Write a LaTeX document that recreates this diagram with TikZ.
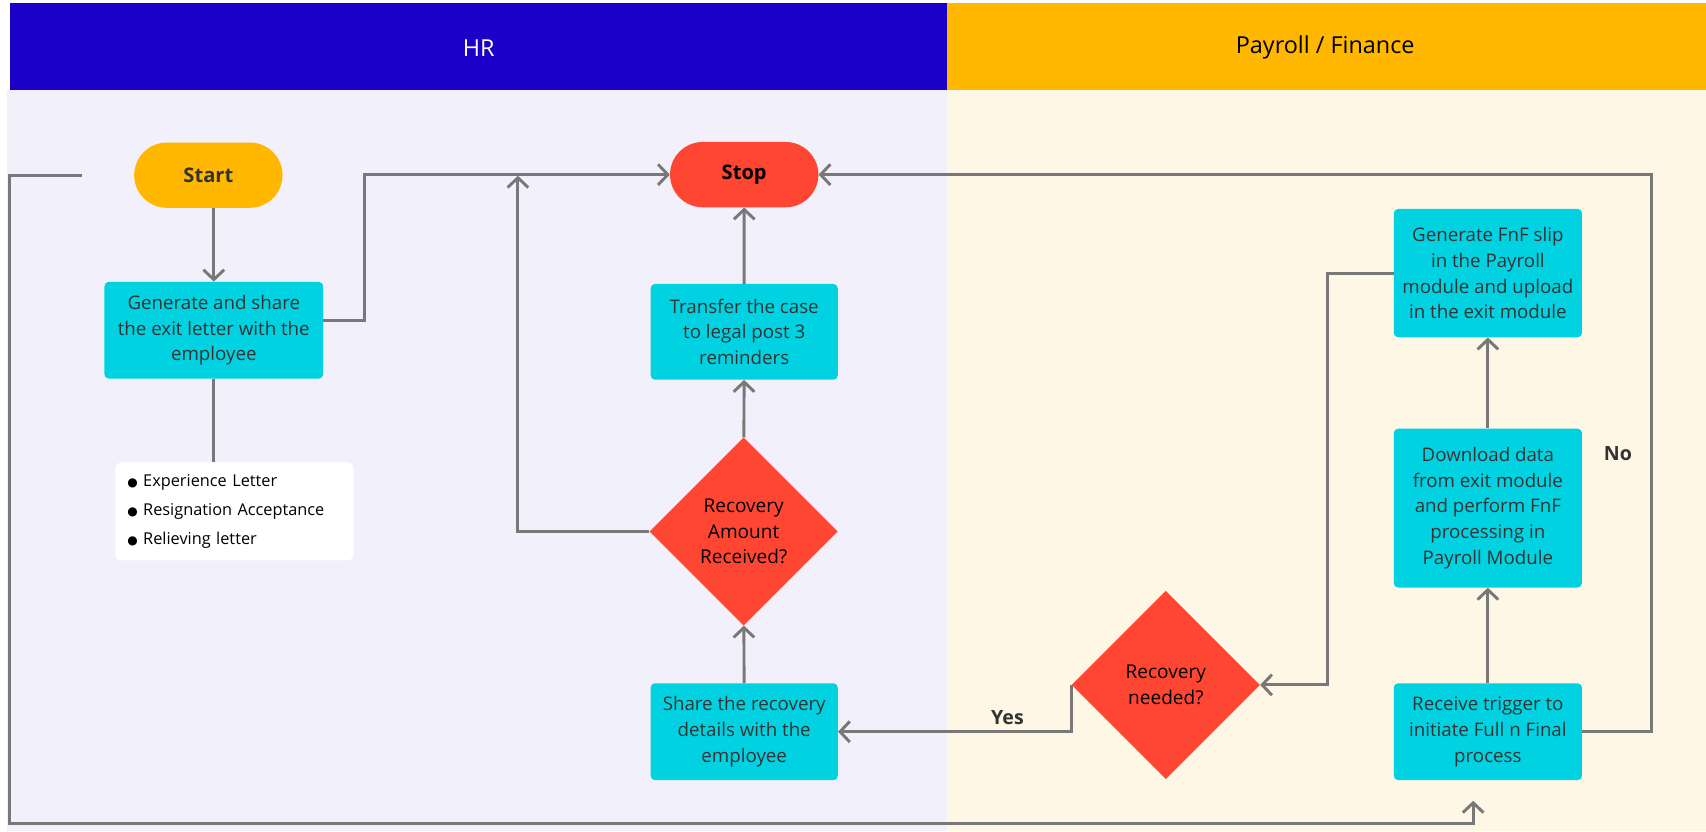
\documentclass[tikz,border=0pt]{standalone}
\usepackage{fontspec}
\setmainfont{Open Sans}
\newfontfamily\symfont{DejaVu Sans}
\usetikzlibrary{arrows.meta,shapes.geometric,shapes.misc}

\definecolor{hrblue}{RGB}{26,0,200}
\definecolor{payamber}{RGB}{255,183,0}
\definecolor{hrlane}{RGB}{242,241,251}
\definecolor{paylane}{RGB}{255,247,230}
\definecolor{stepcyan}{RGB}{0,210,225}
\definecolor{alertred}{RGB}{255,70,50}
\definecolor{wire}{RGB}{120,120,120}
\definecolor{ink}{RGB}{51,51,51}

\newcommand\bul{{\symfont\fontsize{11}{11}\selectfont ●}\hspace{5pt}}

\begin{document}
\begin{tikzpicture}[x=1pt,y=-1pt,
  every node/.style={font=\fontsize{17.2}{23.8}\selectfont},
  taskbox/.style={rectangle, rounded corners=4pt, fill=stepcyan, text=ink,
    align=center, inner sep=0pt},
  pill/.style={rounded rectangle, minimum width=143pt, minimum height=60pt,
    font=\fontsize{18.5}{22}\selectfont\bfseries},
  choice/.style={diamond, fill=alertred, minimum width=173pt, minimum height=173pt,
    inner sep=0pt, align=center, text=black, font=\fontsize{17.5}{23.6}\selectfont},
  link/.style={draw=wire, line width=2.7pt},
  arr/.style={link, -{Straight Barb[length=9pt,width=19pt]}},
  lanehead/.style={font=\fontsize{21.5}{24}\selectfont},
  tag/.style={font=\fontsize{18}{20}\selectfont\bfseries, text=ink}
]
\useasboundingbox (0,0) rectangle (1568,764);

% swimlanes
\fill[white] (0,0) rectangle (1568,764);
\fill[hrlane] (6,83) rectangle (870,764);
\fill[paylane] (870,83) rectangle (1568,764);
\fill[hrblue] (9,3) rectangle (870,83);
\fill[payamber] (870,3) rectangle (1568,83);
\node[lanehead, text=white] (hrhead) at (440,44) {HR};
\node[lanehead, text=black] (payhead) at (1218,44) {Payroll / Finance};

% HR steps
\node[pill, fill=payamber, text=ink] (start) at (191.5,161) {Start};
\node[pill, fill=alertred, text=black] (stop) at (684,160.5) {Stop};
\node[taskbox, minimum width=201pt, minimum height=89pt] (exitletter) at (196.5,303.5)
  {Generate and share\\the exit letter with the\\employee};
\node[fill=white, rounded corners=5pt, minimum width=219pt, minimum height=90pt,
  text width=197pt, align=left, inner xsep=11pt, text=black,
  font=\fontsize{15}{26.5}\selectfont] (docs) at (215.5,470)
  {\bul Experience Letter\\\bul Resignation Acceptance\\\bul Relieving letter};
\node[taskbox, minimum width=172pt, minimum height=88pt] (legal) at (684,305)
  {Transfer the case\\to legal post 3\\reminders};
\node[choice] (received) at (683.5,488.5) {Recovery\\Amount\\Received?};
\node[taskbox, minimum width=172pt, minimum height=89pt] (share) at (684,672.5)
  {Share the recovery\\details with the\\employee};

% Payroll steps
\node[choice] (needed) at (1071.5,629.5) {Recovery\\needed?};
\node[taskbox, minimum width=173pt, minimum height=118pt] (fnfslip) at (1367.5,251)
  {Generate FnF slip\\in the Payroll\\module and upload\\in the exit module};
\node[taskbox, minimum width=173pt, minimum height=146pt] (download) at (1367.5,467)
  {Download data\\from exit module\\and perform FnF\\processing in\\Payroll Module};
\node[taskbox, minimum width=173pt, minimum height=89pt] (trigger) at (1367.5,672.5)
  {Receive trigger to\\initiate Full n Final\\process};

\node[tag] (yes) at (926,660) {Yes};
\node[tag] (no) at (1487,417) {No};

% bend points
\coordinate (exitbend) at (335,160.5);
\coordinate (rejoin) at (476,161.5);
\coordinate (fnfbend) at (1220,251);
\coordinate (nobend) at (1518,672.5);
\coordinate (loopin) at (75,161);
\coordinate (loopwest) at (9,161);
\coordinate (loopsw) at (9,757);
\coordinate (loopend) at (1354,736);

% connectors
\draw[arr] (exitletter.north |- start.south) -- (exitletter.north);
\draw[link] (exitletter.south) -- (exitletter.south |- docs.north);
\draw[arr] ([yshift=9pt]exitletter.east) -| (exitbend) -- (stop.west);
\draw[arr] (legal) -- (stop);
\draw[arr] (received) -- (legal);
\draw[arr] (share) -- (received);
\draw[arr] (received.west) -| (rejoin);
\draw[arr] (needed.west) |- (share.east);
\draw[arr] (fnfslip.west) -- (fnfbend) |- (needed.east);
\draw[arr] (download) -- (fnfslip);
\draw[arr] (trigger) -- (download);
\draw[arr] (trigger.east) -- (nobend) |- (stop.east);
\draw[arr] (loopin) -- (loopwest) -- (loopsw) -| (loopend);
\end{tikzpicture}
\end{document}
